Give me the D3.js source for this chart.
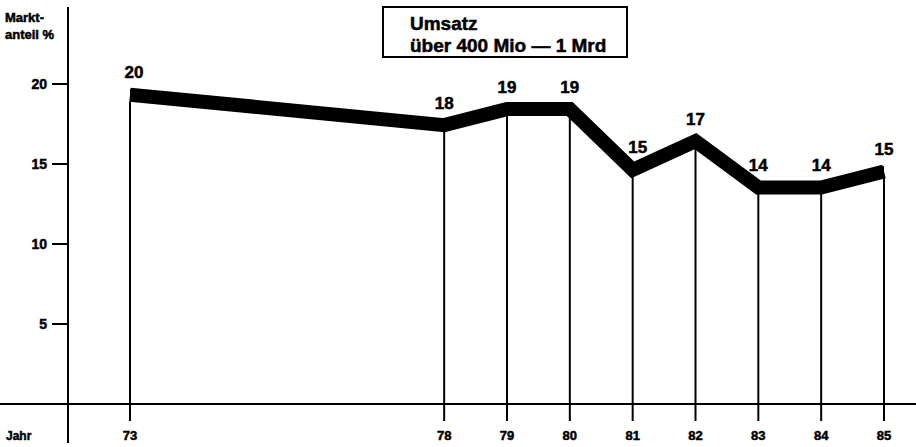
<!DOCTYPE html>
<meta charset="utf-8">
<script src="https://d3js.org/d3.v7.min.js"></script>
<style>
  html, body { margin: 0; padding: 0; background: #fff; }
  svg text { font-family: 'Liberation Sans', Arial, sans-serif; font-weight: bold; fill: #000; stroke: #000; stroke-width: 0.5px; }
</style>
<body>
<div id="chart"></div>
<script>
// data
var years = [73, 78, 79, 80, 81, 82, 83, 84, 85];
var shares = [19.8, 17.9, 18.9, 18.9, 15.1, 16.9, 14.0, 14.0, 15.0];
var shareLabels = ["20", "18", "19", "19", "15", "17", "14", "14", "15"];
var yTicks = [5, 10, 15, 20];

var width = 916, height = 447;
var band = 15;

var svg = d3.select("#chart")
  .append("svg")
    .attr("width", width)
    .attr("height", height);

var x = d3.scaleLinear().domain([73, 85]).range([130, 884]);
var y = d3.scaleLinear().domain([0, 20]).range([404, 84]);

var data = years.map(function(d, i) { return {year: d, v: shares[i], label: shareLabels[i]}; });

// base line and y axis
svg.append("line")
  .attr("x1", 0).attr("x2", width)
  .attr("y1", y(0)).attr("y2", y(0))
  .attr("stroke", "#000").attr("stroke-width", 2);

svg.append("line")
  .attr("x1", 68).attr("x2", 68)
  .attr("y1", 7).attr("y2", 443)
  .attr("stroke", "#000").attr("stroke-width", 2);

// y ticks
svg.selectAll(".ytick")
  .data(yTicks)
  .enter()
  .append("line")
    .attr("x1", 52).attr("x2", 68)
    .attr("y1", function(d) { return y(d); })
    .attr("y2", function(d) { return y(d); })
    .attr("stroke", "#000").attr("stroke-width", 2);

svg.selectAll(".ylab")
  .data(yTicks)
  .enter()
  .append("text")
    .attr("x", 47)
    .attr("y", function(d) { return y(d) + 5; })
    .attr("text-anchor", "end")
    .style("font-size", "14px")
    .text(function(d) { return d; });

// drop lines from band to axis
svg.selectAll(".drop")
  .data(data)
  .enter()
  .append("line")
    .attr("x1", function(d) { return x(d.year); })
    .attr("x2", function(d) { return x(d.year); })
    .attr("y1", function(d) { return y(d.v) + band - 1; })
    .attr("y2", y(0) + 17)
    .attr("stroke", "#000").attr("stroke-width", 2);

// thick band: filled area plus a heavy stroke so slopes keep their weight
var area = d3.area()
  .x(function(d) { return x(d.year); })
  .y0(function(d) { return y(d.v) + 2; })
  .y1(function(d) { return y(d.v) + band - 2; });

svg.append("path")
  .datum(data)
  .attr("d", area)
  .attr("fill", "#000");

var line = d3.line()
  .x(function(d) { return x(d.year); })
  .y(function(d) { return y(d.v) + band / 2; });

svg.append("path")
  .datum(data)
  .attr("d", line)
  .attr("fill", "none")
  .attr("stroke", "#000")
  .attr("stroke-width", 14)
  .attr("stroke-linejoin", "miter")
  .attr("stroke-linecap", "butt");

// value labels
svg.selectAll(".vlab")
  .data(data)
  .enter()
  .append("text")
    .attr("x", function(d) { return x(d.year) + (d.year == 73 ? 4 : (d.year == 81 ? 5 : 0)); })
    .attr("y", function(d) { return y(d.v) - 9; })
    .attr("text-anchor", "middle")
    .style("font-size", "17px")
    .text(function(d) { return d.label; });

// year labels
svg.selectAll(".xlab")
  .data(years)
  .enter()
  .append("text")
    .attr("x", function(d) { return x(d); })
    .attr("y", 440)
    .attr("text-anchor", "middle")
    .style("font-size", "13px")
    .text(function(d) { return d; });

svg.append("text")
  .attr("x", 6).attr("y", 440)
  .style("font-size", "12px")
  .text("Jahr");

// axis title
svg.append("text")
  .attr("x", 5).attr("y", 22)
  .style("font-size", "13px")
  .text("Markt-");
svg.append("text")
  .attr("x", 5).attr("y", 39)
  .style("font-size", "13px")
  .text("anteil %");

// title box
svg.append("rect")
  .attr("x", 383).attr("y", 7)
  .attr("width", 244).attr("height", 50)
  .attr("fill", "none")
  .attr("stroke", "#000").attr("stroke-width", 2);

svg.append("text")
  .attr("x", 410).attr("y", 30)
  .style("font-size", "19px")
  .text("Umsatz");
svg.append("text")
  .attr("x", 410).attr("y", 52)
  .style("font-size", "19px")
  .text("über 400 Mio — 1 Mrd");
</script>
</body>
